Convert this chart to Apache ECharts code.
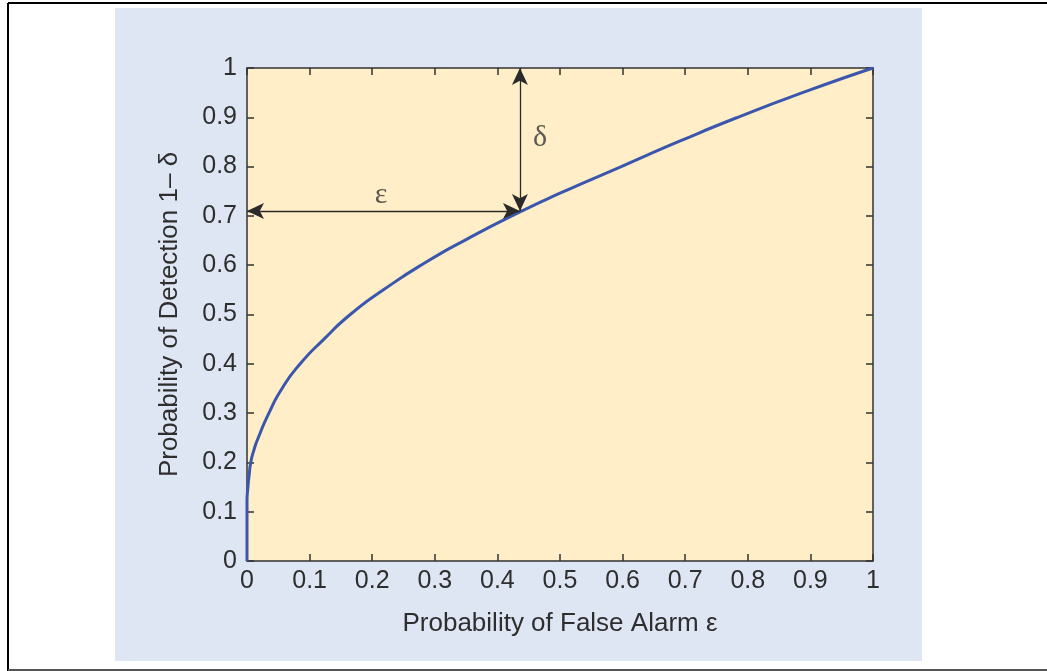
<!DOCTYPE html>
<html>
<head>
<meta charset="utf-8">
<title>ROC</title>
<script src="https://cdn.jsdelivr.net/npm/echarts@6/dist/echarts.min.js"></script>
<style>
  html, body { margin: 0; padding: 0; background: #fff; }
  #main { width: 1047px; height: 671px; }
</style>
</head>
<body>
<div id="main"></div>
<script>
// ROC curve
const falseAlarm = [0, 0, 0.0015, 0.0035, 0.006, 0.011, 0.018, 0.035, 0.056, 0.085, 0.123, 0.165, 0.218, 0.287, 0.35, 0.436, 0.5, 0.596, 0.692, 0.788, 0.894, 1];
const detection  = [0, 0.12, 0.15, 0.175, 0.2, 0.225, 0.25, 0.3, 0.35, 0.4, 0.45, 0.5, 0.55, 0.607, 0.652, 0.708, 0.746, 0.799, 0.852, 0.902, 0.953, 1];

// annotation arrows (operating point) and their labels
const opPoint = [0.436, 0.71];
const labelText = ['ε', 'δ'];
const labelPos = [[0.214, 0.743], [0.468, 0.858]];

const curve = falseAlarm.map((x, i) => [x, detection[i]]);

const myChart = echarts.init(document.getElementById('main'));

const axisCommon = {
  type: 'value',
  min: 0,
  max: 1,
  interval: 0.1,
  axisLine: { show: true, onZero: false, lineStyle: { color: '#333', width: 1.5 } },
  axisTick: { show: true, inside: true, length: 7, lineStyle: { color: '#333', width: 1.5 } },
  splitLine: { show: false }
};
const tickFont = { fontFamily: 'Liberation Sans', fontSize: 25, color: '#2e2e2e' };
const nameFont = { fontFamily: 'Liberation Sans', fontSize: 26, color: '#2e2e2e' };

const option = {
  animation: false,
  backgroundColor: '#fff',
  graphic: [
    { type: 'rect', z: -10, shape: { x: 115, y: 8, width: 807, height: 653 }, style: { fill: '#dfe6f3' } },
    { type: 'line', shape: { x1: 8, y1: 3, x2: 1047, y2: 3 }, style: { stroke: '#000', lineWidth: 2 } },
    { type: 'line', shape: { x1: 8, y1: 3, x2: 8, y2: 671 }, style: { stroke: '#000', lineWidth: 2 } },
    { type: 'line', shape: { x1: 8, y1: 670, x2: 1047, y2: 670 }, style: { stroke: '#555', lineWidth: 2 } }
  ],
  grid: {
    left: 247, right: 174, top: 68, bottom: 110,
    show: true, backgroundColor: '#ffeec7', borderWidth: 0
  },
  xAxis: [
    Object.assign({}, axisCommon, {
      position: 'bottom',
      name: 'Probability of False Alarm ε',
      nameLocation: 'middle',
      nameGap: 50,
      nameTextStyle: nameFont,
      axisLabel: Object.assign({ margin: 8 }, tickFont)
    }),
    Object.assign({}, axisCommon, { position: 'top', axisLabel: { show: false } })
  ],
  yAxis: [
    Object.assign({}, axisCommon, {
      position: 'left',
      name: 'Probability of Detection 1– δ',
      nameLocation: 'middle',
      nameGap: 64,
      nameTextStyle: nameFont,
      axisLabel: Object.assign({ margin: 10 }, tickFont)
    }),
    Object.assign({}, axisCommon, { position: 'right', axisLabel: { show: false } })
  ],
  series: [
    {
      type: 'line',
      data: curve,
      showSymbol: false,
      smooth: 0.6,
      lineStyle: { color: '#3b57ad', width: 3 },
      z: 3,
      markLine: {
        silent: true,
        symbol: ['arrow', 'arrow'],
        symbolSize: [12, 17],
        label: { show: false },
        lineStyle: { color: '#2a2a2a', width: 1.3, type: 'solid' },
        data: [
          [{ coord: [0, opPoint[1]] }, { coord: opPoint }],
          [{ coord: [opPoint[0], 1] }, { coord: opPoint }]
        ]
      }
    },
    {
      type: 'scatter',
      symbolSize: 0,
      silent: true,
      data: labelPos.map((p, i) => ({ value: p, name: labelText[i] })),
      label: {
        show: true,
        position: 'inside',
        formatter: p => p.name,
        fontFamily: 'Liberation Serif',
        fontSize: 30,
        color: '#333'
      }
    }
  ]
};

myChart.setOption(option);
</script>
</body>
</html>
